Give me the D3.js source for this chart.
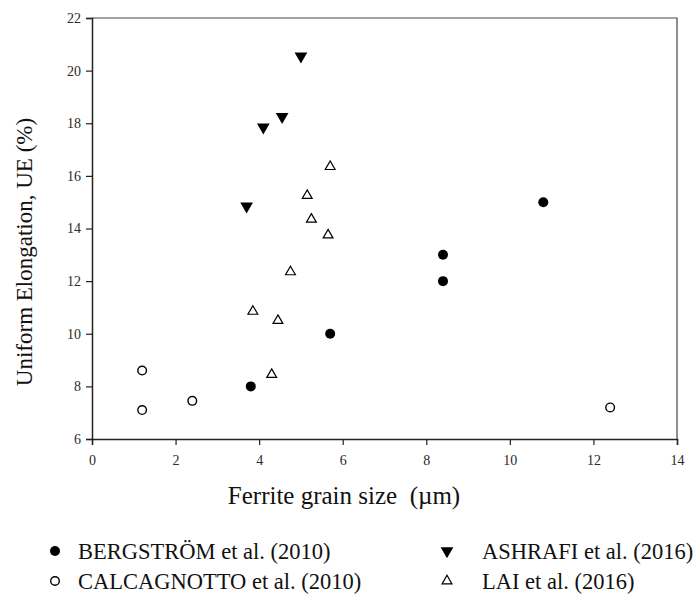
<!DOCTYPE html>
<html><head><meta charset="utf-8">
<script src="https://cdn.jsdelivr.net/npm/d3@7"></script>
<style>body{margin:0;background:#fff}svg{display:block}
svg text{font-family:"Liberation Serif","Times New Roman",Times,"DejaVu Serif",serif !important;white-space:pre}</style>
</head><body>
<script>
const bergstromX = [3.8, 5.7, 8.4, 8.4, 10.8];
const bergstromY = [8.0, 10.0, 12.0, 13.0, 15.0];
const calcagnottoX = [1.2, 1.2, 2.4, 12.4];
const calcagnottoY = [8.6, 7.1, 7.45, 7.2];
const ashrafiX = [3.7, 4.1, 4.55, 5.0];
const ashrafiY = [14.85, 17.85, 18.25, 20.55];
const laiX = [3.85, 4.3, 4.45, 4.75, 5.15, 5.25, 5.65, 5.7];
const laiY = [10.85, 8.45, 10.5, 12.35, 15.25, 14.35, 13.75, 16.35];
const xTicks = [0, 2, 4, 6, 8, 10, 12, 14];
const yTicks = [6, 8, 10, 12, 14, 16, 18, 20, 22];
const seriesNames = ["BERGSTRÖM et al. (2010)", "CALCAGNOTTO et al. (2010)", "ASHRAFI et al. (2016)", "LAI et al. (2016)"];

const W = 700, H = 598;
const m = {left: 92, right: 677, top: 18, bottom: 439};
const svg = d3.select("body").append("svg").attr("width", W).attr("height", H);

const x = d3.scaleLinear().domain([0, 14]).range([m.left, m.right]);
const y = d3.scaleLinear().domain([6, 22]).range([m.bottom, m.top]);

svg.append("path").attr("d", `M${m.left},${m.top}H${m.right}V${m.bottom}`)
  .attr("fill", "none").attr("stroke", "#444").attr("stroke-width", 1.2);

const xAxis = svg.append("g").attr("transform", `translate(0,${m.bottom})`)
  .call(d3.axisBottom(x).tickValues(xTicks).tickSize(6).tickPadding(10).tickFormat(d3.format("d")));
const yAxis = svg.append("g").attr("transform", `translate(${m.left},0)`)
  .call(d3.axisLeft(y).tickValues(yTicks).tickSize(6).tickPadding(5).tickFormat(d3.format("d")));
[xAxis, yAxis].forEach(g => {
  g.select(".domain").attr("stroke", "#222").attr("stroke-width", 1.5);
  g.selectAll(".tick line").attr("stroke", "#222").attr("stroke-width", 1.2);
  g.selectAll("text").attr("font-size", 14).attr("fill", "#2a2a2a");
});

svg.append("text").attr("x", 344).attr("y", 504).attr("text-anchor", "middle")
  .attr("font-size", 25).attr("fill", "#111")
  .text("Ferrite grain size  (µm)");
svg.append("text").attr("transform", "translate(32,252) rotate(-90)").attr("text-anchor", "middle")
  .attr("font-size", 23).attr("fill", "#111")
  .text("Uniform Elongation, UE (%)");

const triDown = d3.symbol().type(d3.symbolTriangle).size(70);
const triUp = d3.symbol().type(d3.symbolTriangle).size(42);

function drawMarker(g, kind) {
  if (kind === 0) g.append("circle").attr("r", 5).attr("fill", "#000");
  else if (kind === 1) g.append("circle").attr("r", 4.3).attr("fill", "#fff").attr("stroke", "#000").attr("stroke-width", 1.4);
  else if (kind === 2) g.append("path").attr("d", triDown()).attr("transform", "rotate(180)").attr("fill", "#000");
  else g.append("path").attr("d", triUp()).attr("fill", "#fff").attr("stroke", "#000").attr("stroke-width", 1.2);
}

const series = [[bergstromX, bergstromY], [calcagnottoX, calcagnottoY], [ashrafiX, ashrafiY], [laiX, laiY]];
series.forEach(([xs, ys], k) => {
  xs.forEach((v, i) => {
    const g = svg.append("g").attr("transform", `translate(${x(v)},${y(ys[i])})`);
    drawMarker(g, k);
  });
});

const legPos = [[55, 551], [55, 581], [447, 551], [447, 581]];
seriesNames.forEach((name, k) => {
  const g = svg.append("g").attr("transform", `translate(${legPos[k][0]},${legPos[k][1]})`);
  drawMarker(g, k);
  svg.append("text").attr("x", legPos[k][0] + (k < 2 ? 23 : 35)).attr("y", legPos[k][1] + 8)
    .attr("font-size", 22.5).attr("fill", "#111").text(name);
});
</script>
</body></html>
